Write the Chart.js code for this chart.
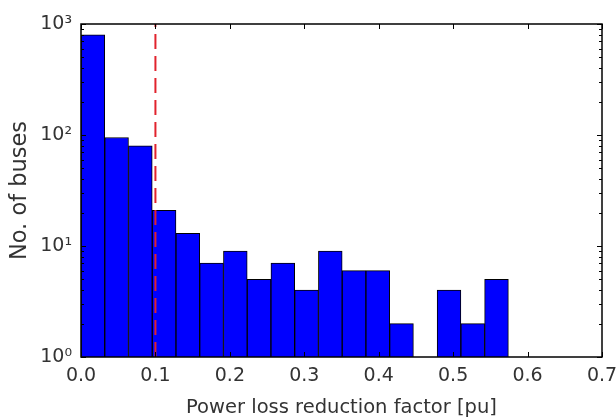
<!DOCTYPE html>
<html>
<head>
<meta charset="utf-8">
<script src="https://cdn.jsdelivr.net/npm/chart.js@4.4.1/dist/chart.umd.min.js"></script>
<style>
  html, body { margin: 0; padding: 0; background: #fff; }
  #wrap { width: 616px; height: 420px; }
</style>
</head>
<body>
<div id="wrap"><canvas id="myChart"></canvas></div>
<script>
// histogram bins (edges) and counts per bin
const binEdges = [0.0000, 0.0319, 0.0638, 0.0957, 0.1276, 0.1595, 0.1914, 0.2233, 0.2552, 0.2871,
  0.3190, 0.3509, 0.3828, 0.4147, 0.4466, 0.4785, 0.5104, 0.5423, 0.5742];
const busCounts = [800, 95, 80, 21, 13, 7, 9, 5, 7, 4, 9, 6, 6, 2, null, 4, 2, 5];

const xTicks = [0, 0.1, 0.2, 0.3, 0.4, 0.5, 0.6, 0.7];
const yTicks = [1, 10, 100, 1000];
const yTickLabels = ["10⁰", "10¹", "10²", "10³"];
const thresholdValue = 0.1;

const tickFont = { family: "DejaVu Sans", size: 19 };

const histData = busCounts.map((c, i) => ({
  x: (binEdges[i] + binEdges[i + 1]) / 2,
  y: c,
}));

// inner ticks, frame and the dashed threshold line
const framePlugin = {
  id: "frame",
  afterDatasetsDraw(chart) {
    const { ctx, chartArea: a, scales: { x, y } } = chart;
    ctx.save();

    const tx = x.getPixelForValue(thresholdValue);
    ctx.strokeStyle = "rgb(225, 35, 45)";
    ctx.lineWidth = 2;
    ctx.setLineDash([15, 7]);
    ctx.beginPath();
    ctx.moveTo(tx, a.bottom);
    ctx.lineTo(tx, a.top);
    ctx.stroke();

    ctx.setLineDash([]);
    ctx.strokeStyle = "#000";
    ctx.lineWidth = 1;
    ctx.beginPath();
    xTicks.forEach((v) => {
      const px = Math.round(x.getPixelForValue(v)) + 0.5;
      ctx.moveTo(px, a.bottom); ctx.lineTo(px, a.bottom - 5);
      ctx.moveTo(px, a.top); ctx.lineTo(px, a.top + 5);
    });
    yTicks.forEach((v) => {
      const py = Math.round(y.getPixelForValue(v)) + 0.5;
      ctx.moveTo(a.left, py); ctx.lineTo(a.left + 5, py);
      ctx.moveTo(a.right, py); ctx.lineTo(a.right - 5, py);
    });
    for (let k = 0; k < 3; k++) {
      for (let d = 2; d <= 9; d++) {
        const py = Math.round(y.getPixelForValue(d * Math.pow(10, k))) + 0.5;
        ctx.moveTo(a.left, py); ctx.lineTo(a.left + 3, py);
        ctx.moveTo(a.right, py); ctx.lineTo(a.right - 3, py);
      }
    }
    ctx.stroke();

    ctx.lineWidth = 1.5;
    ctx.strokeRect(a.left, a.top, a.right - a.left, a.bottom - a.top);
    ctx.restore();
  },
};

const config = {
  type: "bar",
  data: {
    datasets: [
      {
        label: "No. of buses",
        data: histData,
        backgroundColor: "#0000ff",
        borderColor: "#000",
        borderWidth: 1,
        barPercentage: 1,
        categoryPercentage: 1,
      },
    ],
  },
  options: {
    responsive: false,
    animation: false,
    layout: { padding: { left: 0, right: 14, top: 24, bottom: 0 } },
    plugins: { legend: { display: false }, tooltip: { enabled: false } },
    scales: {
      x: {
        type: "linear",
        min: 0,
        max: 0.7,
        offset: false,
        grid: { display: false, drawTicks: false, offset: false },
        border: { display: false },
        afterBuildTicks: (s) => { s.ticks = xTicks.map((v) => ({ value: v })); },
        afterFit: (s) => { s.height = 63; s.paddingLeft = 0; s.paddingRight = 0; },
        ticks: {
          font: tickFont,
          color: "#333",
          padding: 8,
          maxRotation: 0,
          callback: (v) => Number(v).toFixed(1),
        },
        title: {
          display: true,
          text: "Power loss reduction factor [pu]",
          font: { family: "DejaVu Sans", size: 19.5 },
          color: "#333",
          padding: { top: 0, bottom: 0 },
        },
      },
      y: {
        type: "logarithmic",
        min: 1,
        max: 1000,
        grid: { display: false, drawTicks: false },
        border: { display: false },
        afterBuildTicks: (s) => { s.ticks = yTicks.map((v) => ({ value: v })); },
        afterFit: (s) => { s.width = 81; s.paddingTop = 0; s.paddingBottom = 0; },
        ticks: {
          font: tickFont,
          color: "#333",
          padding: 9,
          callback: (v) => yTickLabels[yTicks.indexOf(v)],
        },
        title: {
          display: true,
          text: "No. of buses",
          font: { family: "DejaVu Sans", size: 22.5 },
          color: "#333",
          padding: { top: 6.5, bottom: 0 },
        },
      },
    },
  },
  plugins: [framePlugin],
};

const canvas = document.getElementById("myChart");
canvas.width = 616;
canvas.height = 420;
const myChart = new Chart(canvas, config);
</script>
</body>
</html>
